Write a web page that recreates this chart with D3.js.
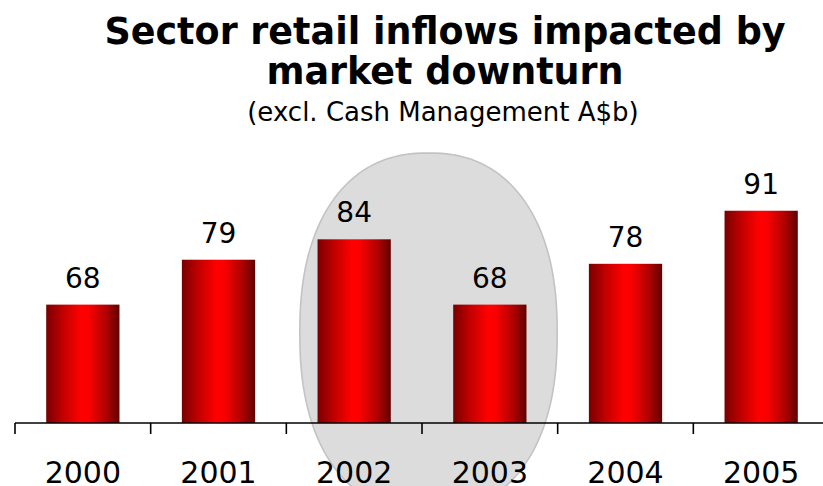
<!DOCTYPE html>
<html>
<head>
<meta charset="utf-8">
<script src="https://cdn.jsdelivr.net/npm/d3@7"></script>
<style>
  html, body { margin: 0; padding: 0; background: #fff; }
  svg { display: block; }
</style>
</head>
<body>
<svg id="chart" width="823" height="486"></svg>
<script>
// Sector retail inflows, excluding cash management (A$ billion)
const years = ["2000", "2001", "2002", "2003", "2004", "2005"];
const inflows = [68, 79, 84, 68, 78, 91];
const titleLines = ["Sector retail inflows impacted by", "market downturn"];
const subtitle = "(excl. Cash Management A$b)";
// the two years singled out by the shaded oval
const highlighted = ["2002", "2003"];

const W = 823, H = 486;
const baseY = 423;
const svg = d3.select("#chart");

const x = d3.scaleBand()
  .domain(years)
  .range([15, 829])
  .paddingInner(0.46)
  .paddingOuter(0.23);

const y = d3.scaleLinear()
  .domain([39, 100])
  .range([baseY, 174]);

// cylinder-like horizontal shading of the bars
const defs = svg.append("defs");
const grad = defs.append("linearGradient")
  .attr("id", "barShade")
  .attr("x1", "0%").attr("x2", "100%")
  .attr("y1", "0%").attr("y2", "0%");
[[0, "#780000"], [0.22, "#c00000"], [0.47, "#ff0000"], [0.58, "#fa0000"], [0.82, "#b00000"], [1, "#620000"]]
  .forEach(([o, c]) => grad.append("stop").attr("offset", o).attr("stop-color", c));

// shaded oval behind the highlighted years (rounded superellipse)
const h0 = x(highlighted[0]) - x.step() * x.paddingInner() / 2;
const h1 = x(highlighted[1]) + x.bandwidth() + x.step() * x.paddingInner() / 2;
const ocx = (h0 + h1) / 2 + 6.5;
const orx = (h1 - h0) / 2 - 7;
const ory = 180;
const ocy = 333;
const n = 2.3;
const ovalPts = d3.range(0, 361, 2).map(deg => {
  const t = deg * Math.PI / 180;
  const c = Math.cos(t), s = Math.sin(t);
  return [
    ocx + orx * Math.sign(c) * Math.pow(Math.abs(c), 2 / n),
    ocy + ory * Math.sign(s) * Math.pow(Math.abs(s), 2 / n)
  ];
});
svg.append("path")
  .attr("d", d3.line().curve(d3.curveLinearClosed)(ovalPts))
  .attr("fill", "#dcdcdc")
  .attr("stroke", "#c3c3c3")
  .attr("stroke-width", 1.6);

// bars
svg.append("g").selectAll("rect")
  .data(years)
  .join("rect")
  .attr("x", d => x(d))
  .attr("width", x.bandwidth())
  .attr("y", (d, i) => y(inflows[i]))
  .attr("height", (d, i) => baseY - y(inflows[i]))
  .attr("fill", "url(#barShade)");

// value labels
svg.append("g").selectAll("text")
  .data(years)
  .join("text")
  .attr("x", d => x(d) + x.bandwidth() / 2)
  .attr("y", (d, i) => y(inflows[i]) - 17)
  .attr("text-anchor", "middle")
  .attr("font-family", "DejaVu Sans, Verdana, sans-serif")
  .attr("font-size", 28)
  .attr("fill", "#000")
  .text((d, i) => inflows[i]);

// category axis: ticks sit on band boundaries
const axisG = svg.append("g");
axisG.append("line")
  .attr("x1", x.range()[0]).attr("x2", W)
  .attr("y1", baseY).attr("y2", baseY)
  .attr("stroke", "#000").attr("stroke-width", 1.6);
const edges = years.map(d => x(d) - x.step() * x.paddingOuter());
axisG.selectAll("line.tick")
  .data(edges)
  .join("line")
  .attr("class", "tick")
  .attr("x1", d => d).attr("x2", d => d)
  .attr("y1", baseY).attr("y2", baseY + 11)
  .attr("stroke", "#000").attr("stroke-width", 1.6);

axisG.selectAll("text")
  .data(years)
  .join("text")
  .attr("x", d => x(d) + x.bandwidth() / 2)
  .attr("y", 483)
  .attr("text-anchor", "middle")
  .attr("font-family", "DejaVu Sans, Verdana, sans-serif")
  .attr("font-size", 30)
  .attr("fill", "#000")
  .text(d => d);

// titles
const tg = svg.append("g").attr("text-anchor", "middle")
  .attr("font-family", "DejaVu Sans, Verdana, sans-serif")
  .attr("fill", "#000");
tg.selectAll("text.t")
  .data(titleLines)
  .join("text")
  .attr("class", "t")
  .attr("x", 445)
  .attr("y", (d, i) => 44 + i * 40)
  .attr("font-size", 36.5)
  .attr("font-weight", "bold")
  .text(d => d);
tg.append("text")
  .attr("x", 443)
  .attr("y", 121)
  .attr("font-size", 26)
  .text(subtitle);
</script>
</body>
</html>
